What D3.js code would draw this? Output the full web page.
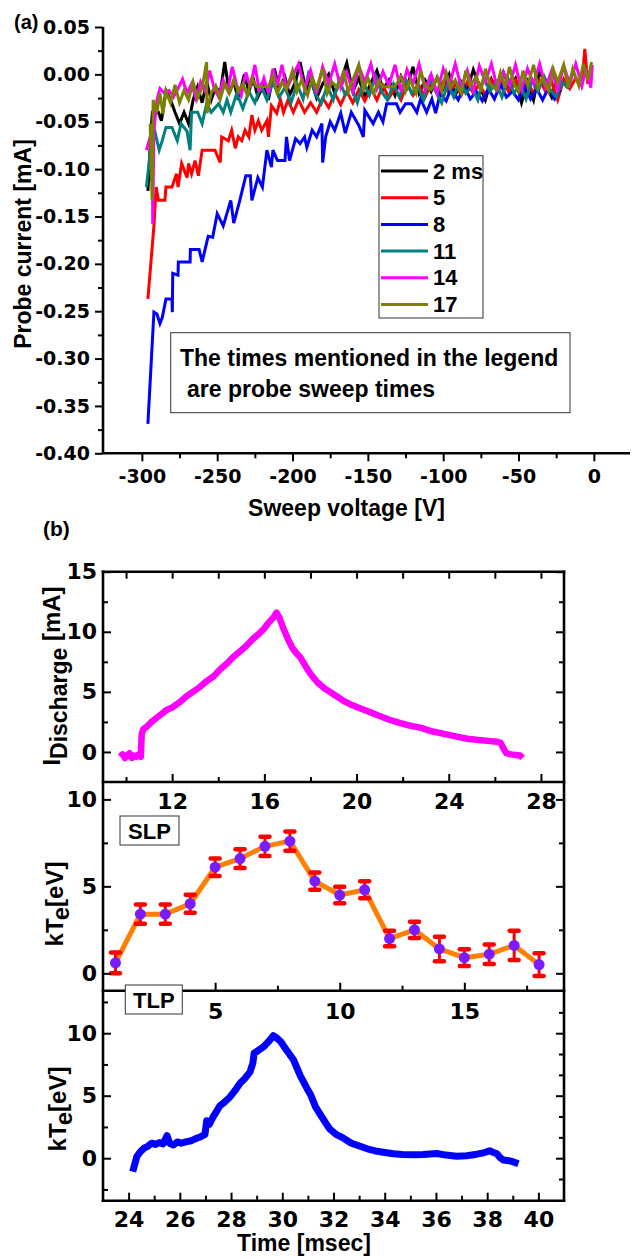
<!DOCTYPE html>
<html>
<head>
<meta charset="utf-8">
<script src="https://cdn.jsdelivr.net/npm/d3@7"></script>
<style>
  body { margin: 0; background: #fff; }
  svg { display: block; }
  text { font-family: "Liberation Sans", Arial, sans-serif; font-weight: bold; fill: #000; }
  .tick text { font-family: "DejaVu Sans", sans-serif; font-weight: bold; }
  .tick line { stroke: #000; stroke-width: 2; }
</style>
</head>
<body>
<svg id="chart" width="638" height="1258"></svg>
<script>
// ---------------- Panel (a): probe I-V sweeps ([voltage V, current mA]) ----------------
const sweep2 = [[-296,-0.123],[-294,-0.060],[-293,-0.040],[-289,-0.040],[-287,-0.049],[-284,-0.017],[-281,-0.027],[-278,-0.040],[-275,-0.052],[-272,-0.040],[-269,-0.052],[-266,-0.027],[-263,-0.013],[-260,-0.030],[-257,-0.008],[-254,-0.027],[-251,-0.013],[-248,-0.020],[-245,0.013],[-242,-0.020],[-239,-0.007],[-236,-0.027],[-232,0.000],[-229,-0.018],[-226,-0.005],[-223,-0.024],[-219,-0.010],[-216,-0.027],[-212,0.006],[-209,-0.015],[-205,-0.003],[-202,-0.022],[-198,-0.008],[-195,0.013],[-191,-0.017],[-188,-0.005],[-184,-0.025],[-180,-0.010],[-176,0.000],[-172,-0.020],[-168,-0.007],[-164,0.012],[-160,-0.018],[-156,-0.004],[-152,-0.024],[-148,-0.009],[-144,0.004],[-140,-0.016],[-136,-0.006],[-132,-0.022],[-128,-0.002],[-124,-0.014],[-120,0.008],[-116,-0.020],[-112,-0.006],[-108,-0.018],[-104,-0.003],[-100,-0.015],[-96,0.000],[-92,-0.022],[-88,-0.008],[-84,-0.016],[-80,0.005],[-76,-0.012],[-72,-0.027],[-68,-0.005],[-64,-0.018],[-60,0.002],[-56,-0.014],[-52,-0.004],[-48,-0.030],[-44,-0.008],[-40,-0.027],[-36,0.004],[-32,-0.012],[-28,-0.024],[-25,-0.006]];

const sweep5 = [[-296,-0.237],[-292,-0.160],[-290.5,-0.119],[-289,-0.133],[-284.7,-0.133],[-284,-0.119],[-280,-0.119],[-277,-0.105],[-276,-0.119],[-273.6,-0.094],[-270,-0.109],[-269,-0.094],[-267,-0.105],[-264.7,-0.091],[-262.5,-0.107],[-260,-0.080],[-251.5,-0.080],[-248,-0.093],[-247,-0.066],[-242.6,-0.070],[-240.4,-0.059],[-238,-0.078],[-236,-0.066],[-233.7,-0.070],[-231.5,-0.059],[-229,-0.066],[-227,-0.043],[-225,-0.059],[-222.7,-0.049],[-220.5,-0.059],[-217,-0.049],[-216,-0.066],[-214,-0.033],[-210.5,-0.041],[-208,-0.027],[-206,-0.040],[-203,-0.027],[-199.5,-0.040],[-196,-0.027],[-192,-0.040],[-188,-0.030],[-184,-0.040],[-180,-0.025],[-176,-0.035],[-172,-0.020],[-168,-0.032],[-164,-0.018],[-160,-0.030],[-156,-0.016],[-152,-0.028],[-148,-0.015],[-144,-0.027],[-140,-0.012],[-136,-0.025],[-132,-0.015],[-128,-0.027],[-124,-0.010],[-120,-0.022],[-116,-0.012],[-112,-0.024],[-108,-0.010],[-104,-0.020],[-100,-0.008],[-96,-0.020],[-92,-0.010],[-88,-0.022],[-84,-0.008],[-80,-0.020],[-76,-0.010],[-72,-0.022],[-68,-0.006],[-64,-0.018],[-60,-0.008],[-56,-0.020],[-52,-0.006],[-48,-0.018],[-44,-0.008],[-40,-0.020],[-36,-0.006],[-32,-0.018],[-28,-0.008],[-24,-0.027],[-20,-0.005],[-16,-0.015],[-12,-0.004],[-8,-0.012],[-6,0.027],[-4,-0.010]];

const sweep8 = [[-296,-0.369],[-292,-0.251],[-290,-0.253],[-288,-0.263],[-286.5,-0.257],[-284,-0.237],[-280,-0.237],[-279.8,-0.251],[-279.5,-0.210],[-276,-0.212],[-275.8,-0.198],[-268,-0.198],[-267.8,-0.185],[-262,-0.185],[-260,-0.198],[-256,-0.171],[-253,-0.172],[-250,-0.147],[-246,-0.160],[-241,-0.133],[-239,-0.157],[-235,-0.133],[-231,-0.107],[-228,-0.107],[-227,-0.133],[-223,-0.109],[-220,-0.119],[-217,-0.080],[-214,-0.098],[-213,-0.080],[-210,-0.091],[-205,-0.091],[-204,-0.066],[-202,-0.091],[-198,-0.068],[-195,-0.073],[-192,-0.066],[-190.5,-0.077],[-187,-0.059],[-184,-0.066],[-180.5,-0.052],[-180,-0.093],[-178,-0.066],[-175,-0.050],[-172,-0.059],[-168,-0.041],[-165,-0.062],[-161,-0.040],[-156,-0.054],[-153,-0.066],[-152,-0.038],[-146.5,-0.052],[-143,-0.040],[-140,-0.050],[-137.5,-0.031],[-131,-0.031],[-128.6,-0.040],[-125,-0.031],[-121,-0.031],[-117.5,-0.040],[-115,-0.026],[-111,-0.040],[-107.5,-0.026],[-105,-0.041],[-102,-0.020],[-98,-0.028],[-95,-0.015],[-90,-0.027],[-86,-0.012],[-82,-0.026],[-78,-0.018],[-74,-0.028],[-70,-0.015],[-66,-0.026],[-62,-0.010],[-58,-0.024],[-54,-0.018],[-50,-0.027],[-46,-0.012],[-42,-0.026],[-38,-0.015],[-34,-0.027],[-30,-0.014],[-26,-0.026],[-22,-0.016]];

const sweep11 = [[-297,-0.119],[-294,-0.077],[-292,-0.056],[-288.5,-0.080],[-286.5,-0.070],[-284,-0.056],[-280,-0.056],[-276.5,-0.070],[-274,-0.052],[-270,-0.060],[-268,-0.080],[-267,-0.040],[-263,-0.040],[-260,-0.052],[-257,-0.031],[-254,-0.040],[-249,-0.031],[-246,-0.040],[-243.5,-0.027],[-241,-0.040],[-237,-0.020],[-233,-0.036],[-229,-0.018],[-225,-0.030],[-221,-0.012],[-217,-0.027],[-213,-0.008],[-209,-0.024],[-205,-0.014],[-201,-0.030],[-197,-0.010],[-193,-0.026],[-189,0.004],[-185,-0.020],[-181,-0.031],[-177,-0.012],[-173,-0.027],[-169,-0.006],[-165,-0.022],[-161,-0.013],[-157,-0.030],[-153,-0.008],[-149,-0.022],[-145,-0.002],[-141,-0.018],[-137,-0.027],[-133,-0.010],[-129,-0.024],[-125,-0.005],[-121,-0.020],[-117,-0.012],[-113,-0.027],[-109,-0.004],[-105,-0.018],[-101,-0.030],[-97,-0.010],[-93,-0.024],[-89,-0.006],[-85,-0.020],[-81,-0.013],[-77,-0.027],[-73,-0.003],[-69,-0.018],[-65,-0.008],[-61,-0.024],[-57,-0.004],[-53,-0.020],[-49,-0.010],[-45,-0.026],[-41,-0.006],[-37,-0.018],[-33,-0.002],[-29,-0.016],[-25,-0.024],[-21,-0.008],[-17,-0.015]];

const sweep14 = [[-297,-0.080],[-294.5,-0.066],[-293,-0.066],[-292.8,-0.158],[-292,-0.060],[-290,-0.027],[-288,-0.015],[-285,-0.020],[-282,-0.017],[-279,-0.024],[-276,-0.015],[-273,-0.005],[-270,-0.020],[-267,-0.010],[-264,-0.026],[-261,-0.008],[-258,-0.018],[-255,0.004],[-252,-0.015],[-249,-0.024],[-246,-0.006],[-243,-0.017],[-240,0.008],[-237,-0.012],[-234,-0.022],[-231,0.002],[-228,-0.014],[-225,0.010],[-222,-0.018],[-219,-0.004],[-216,-0.020],[-213,0.006],[-210,-0.012],[-207,0.010],[-204,-0.016],[-200,-0.002],[-196,0.011],[-192,-0.015],[-188,0.004],[-184,-0.020],[-180,0.008],[-176,-0.010],[-172,0.011],[-168,-0.014],[-164,0.002],[-160,-0.018],[-156,0.009],[-152,-0.008],[-148,0.011],[-144,-0.015],[-140,0.003],[-136,-0.012],[-132,0.010],[-128,-0.018],[-124,0.005],[-120,-0.010],[-116,0.011],[-112,-0.016],[-108,0.000],[-104,-0.020],[-100,0.006],[-96,-0.012],[-92,0.011],[-88,-0.014],[-84,0.004],[-80,-0.018],[-76,0.009],[-72,-0.008],[-68,0.011],[-64,-0.015],[-60,0.002],[-56,-0.012],[-52,0.010],[-48,-0.016],[-44,0.006],[-40,-0.010],[-36,0.011],[-32,-0.014],[-28,0.004],[-24,-0.016],[-20,0.009],[-16,-0.010],[-12,0.011],[-8,-0.012],[-5,0.006],[-2,-0.014],[-1,0.010]];

const sweep17 = [[-294.5,-0.052],[-293.2,-0.133],[-292.5,-0.027],[-290,-0.040],[-288,-0.020],[-286,-0.042],[-284,-0.018],[-281,-0.030],[-278,-0.011],[-275,-0.030],[-272,-0.017],[-269,-0.027],[-266,-0.008],[-263,-0.025],[-260,-0.014],[-257,0.013],[-256.8,-0.041],[-254,-0.020],[-251,-0.012],[-248,-0.026],[-245,-0.010],[-242,-0.020],[-239,-0.006],[-236,-0.018],[-233,-0.010],[-230,-0.022],[-227,-0.004],[-224,-0.013],[-220,-0.013],[-216,-0.013],[-213,-0.002],[-210,-0.020],[-207,-0.008],[-204,-0.016],[-200,0.004],[-197,-0.018],[-194,-0.006],[-190,-0.022],[-187,-0.004],[-184,-0.015],[-180,0.006],[-177,-0.020],[-174,-0.008],[-170,-0.014],[-166,0.002],[-163,-0.018],[-160,-0.006],[-156,0.010],[-153,-0.016],[-150,-0.004],[-146,-0.020],[-143,-0.007],[-140,-0.013],[-136,-0.013],[-132,-0.013],[-128,-0.002],[-125,-0.018],[-122,-0.006],[-118,-0.020],[-115,0.004],[-112,-0.012],[-108,-0.016],[-104,-0.003],[-101,-0.018],[-98,0.002],[-95,-0.014],[-92,-0.006],[-88,-0.020],[-85,0.004],[-82,-0.012],[-78,-0.002],[-75,-0.018],[-72,0.006],[-69,-0.010],[-65,-0.016],[-62,0.002],[-59,-0.014],[-56,0.008],[-53,-0.010],[-50,-0.018],[-47,0.004],[-44,-0.012],[-40,0.010],[-37,-0.014],[-34,-0.004],[-30,-0.018],[-27,0.006],[-24,-0.008],[-20,0.010],[-17,-0.014],[-14,0.006],[-10,-0.012],[-7,0.011],[-4,-0.006],[-1.5,0.013]];

const sweepLabels = ["2 ms", "5", "8", "11", "14", "17"];
const sweepColors = ["#000000", "#ff0000", "#0000ff", "#008080", "#ff00ff", "#808000"];
const sweepData = [sweep2, sweep5, sweep8, sweep11, sweep14, sweep17];

const aXTicks = [-300, -250, -200, -150, -100, -50, 0];
const aXMinor = [-275, -225, -175, -125, -75, -25];
const aYTicks = [-0.40, -0.35, -0.30, -0.25, -0.20, -0.15, -0.10, -0.05, 0.00, 0.05];
const aYMinor = [-0.375, -0.325, -0.275, -0.225, -0.175, -0.125, -0.075, -0.025, 0.025];

// ---------------- Panel (b) top: discharge current ----------------
const dischargeTime = [9.75,9.85,9.95,10.05,10.15,10.25,10.35,10.45,10.55,10.64,10.68,10.75,10.9,11.1,11.3,11.5,11.76,12.0,12.3,12.6,12.9,13.2,13.5,13.8,14.1,14.4,14.65,14.9,15.2,15.5,15.8,16.0,16.2,16.4,16.53,16.65,16.8,17.0,17.2,17.4,17.55,17.8,18.0,18.3,18.6,19.0,19.4,19.8,20.2,20.6,21.0,21.4,21.9,22.3,22.8,23.3,23.8,24.3,24.8,25.3,25.8,26.1,26.25,26.4,26.5,26.7,26.9,27.1,27.2];
const dischargeCurrent = [-0.4,-0.2,-0.5,-0.3,-0.1,-0.5,-0.3,-0.4,-0.2,-0.4,1.5,1.9,2.1,2.5,2.8,3.1,3.5,3.7,4.1,4.6,5.0,5.4,5.9,6.3,6.9,7.4,7.9,8.3,8.8,9.4,9.9,10.3,10.8,11.2,11.6,11.2,10.4,9.5,8.7,8.2,7.9,7.1,6.5,5.8,5.3,4.8,4.3,3.9,3.6,3.3,3.0,2.7,2.4,2.2,2.0,1.7,1.5,1.3,1.1,1.0,0.9,0.85,0.75,0.2,-0.1,-0.2,-0.25,-0.3,-0.5];

// ---------------- Panel (b) middle: single Langmuir probe kTe per sweep ----------------
const slpSweep = [1,2,3,4,5,6,7,8,9,10,11,12,13,14,15,16,17,18];
const slpTe    = [0.6,3.4,3.4,4.0,6.1,6.6,7.3,7.6,5.3,4.5,4.8,2.0,2.5,1.4,0.9,1.1,1.6,0.5];
const slpErr   = [0.6,0.55,0.55,0.52,0.5,0.54,0.55,0.56,0.5,0.47,0.49,0.45,0.47,0.7,0.48,0.56,0.84,0.65];

// ---------------- Panel (b) bottom: triple Langmuir probe kTe ----------------
const tlpTime = [24.16,24.25,24.32,24.45,24.6,24.75,24.9,25.05,25.2,25.35,25.5,25.6,25.75,25.9,26.05,26.27,26.45,26.6,26.8,26.98,27.05,27.15,27.3,27.45,27.57,27.75,27.96,28.15,28.35,28.55,28.74,28.85,28.9,29.05,29.26,29.45,29.65,29.8,29.95,30.15,30.43,30.7,30.96,31.1,31.3,31.48,31.7,31.87,32.1,32.39,32.7,33.04,33.4,33.7,34.0,34.34,34.7,35.12,35.5,36.03,36.4,36.8,37.2,37.6,37.9,38.1,38.25,38.38,38.5,38.64,38.85,39.03,39.22];
const tlpTe = [-1.07,-0.4,0.13,0.5,0.8,0.95,1.2,1.1,1.25,1.15,1.8,1.2,1.06,1.3,1.2,1.33,1.4,1.55,1.7,1.9,3.0,2.7,3.3,3.8,4.2,4.5,4.9,5.4,6.0,6.4,6.9,7.6,8.4,8.6,8.9,9.3,9.8,9.6,9.3,8.7,7.9,6.6,5.6,5.1,4.1,3.5,2.8,2.3,1.9,1.6,1.2,0.95,0.7,0.55,0.45,0.35,0.3,0.28,0.3,0.38,0.25,0.15,0.2,0.32,0.45,0.6,0.45,0.35,0.05,-0.15,-0.2,-0.3,-0.45];

const topXMajor = [12, 16, 20, 24, 28], topXMinor = [10, 14, 18, 22, 26];
const topYMajor = [0, 5, 10, 15], topYMinor = [2.5, 7.5, 12.5];
const midXMajor = [5, 10, 15], midXMinor = [2.5, 7.5, 12.5, 17.5];
const midYMajor = [0, 5, 10], midYMinor = [2.5, 7.5];
const botXMajor = [24, 26, 28, 30, 32, 34, 36, 38, 40], botXMinor = [25, 27, 29, 31, 33, 35, 37, 39];
const botYMajor = [0, 5, 10], botYMinor = [-2.5, 2.5, 7.5, 12.5];
const botYRight = [-5/3, 5/3, 10/3, 20/3, 25/3, 35/3];

// ---------------------------------------------------------------------------------
const svg = d3.select("#chart");
const loc = d3.formatLocale({decimal: ".", thousands: ",", grouping: [3], currency: ["", ""], minus: "-"});
const fmt2 = loc.format(".2f");
const fmt0 = loc.format("d");

// Draws one axis (major + optional minor set) with the given generator.
function axis(g, make, scale, major, minor, opts) {
  const o = Object.assign({size: 8, minorSize: 5, pad: 6, font: 22, labels: true, fmt: fmt0}, opts);
  const a = g.append("g").attr("transform", o.tr)
    .call(make(scale).tickValues(major).tickSize(o.size).tickSizeOuter(0).tickPadding(o.pad)
      .tickFormat(o.labels ? o.fmt : () => ""));
  a.select(".domain").remove();
  a.selectAll(".tick text").style("font-size", o.font + "px");
  if (minor && minor.length) {
    const m = g.append("g").attr("transform", o.tr)
      .call(make(scale).tickValues(minor).tickSize(o.minorSize).tickSizeOuter(0).tickFormat(() => ""));
    m.select(".domain").remove();
  }
}

// ---------------- Panel (a) ----------------
const ax = d3.scaleLinear().domain([-325.8, 24]).range([103, 630]);
const ay = d3.scaleLinear().domain([-0.40, 0.05]).range([453.3, 27]);
const gA = svg.append("g");

const lineA = d3.line().x(d => ax(d[0])).y(d => ay(d[1]));
sweepData.forEach((s, i) => {
  gA.append("path").datum(s).attr("d", lineA)
    .attr("fill", "none").attr("stroke", sweepColors[i])
    .attr("stroke-width", 3).attr("stroke-linejoin", "miter");
});

axis(gA, d3.axisLeft, ay, aYTicks, aYMinor, {tr: `translate(${ax.range()[0]},0)`, size: 8, pad: 5, font: 19, fmt: fmt2});
axis(gA, d3.axisBottom, ax, aXTicks, aXMinor, {tr: `translate(0,${ay.range()[0]})`, size: 8, pad: 8, font: 19});
gA.append("line").attr("x1", ax.range()[0]).attr("x2", ax.range()[0])
  .attr("y1", ay.range()[0]).attr("y2", ay.range()[1]).attr("stroke", "#000").attr("stroke-width", 2.6);
gA.append("line").attr("x1", ax.range()[0]).attr("x2", ax.range()[1])
  .attr("y1", ay.range()[0]).attr("y2", ay.range()[0]).attr("stroke", "#000").attr("stroke-width", 2.6);

// legend
const leg = gA.append("g");
leg.append("rect").attr("x", 379).attr("y", 155.7).attr("width", 104).attr("height", 162.3)
  .attr("fill", "#fff").attr("stroke", "#333").attr("stroke-width", 1);
sweepLabels.forEach((lab, i) => {
  const yy = 171 + i * 26.7;
  leg.append("line").attr("x1", 381).attr("x2", 428).attr("y1", yy).attr("y2", yy)
    .attr("stroke", sweepColors[i]).attr("stroke-width", 3);
  leg.append("text").attr("x", 433).attr("y", yy + 7.5).style("font-size", "22px").text(lab);
});

// note box
const note = gA.append("g");
note.append("rect").attr("x", 170.7).attr("y", 332.7).attr("width", 399.3).attr("height", 80)
  .attr("fill", "#fff").attr("stroke", "#333").attr("stroke-width", 1);
note.append("text").attr("x", 180).attr("y", 366).style("font-size", "23px").text("The times mentioned in the legend");
note.append("text").attr("x", 187).attr("y", 396.5).style("font-size", "23px").text("are probe sweep times");

svg.append("text").attr("x", 14).attr("y", 29).style("font-size", "20px").text("(a)");
svg.append("text").attr("transform", "translate(31,244) rotate(-90)").attr("text-anchor", "middle")
  .style("font-size", "23px").text("Probe current [mA]");
svg.append("text").attr("x", 346.5).attr("y", 516).attr("text-anchor", "middle")
  .style("font-size", "23px").text("Sweep voltage [V]");

// ---------------- Panel (b) ----------------
const bx1 = d3.scaleLinear().domain([9, 29]).range([103, 564]);
const by1 = d3.scaleLinear().domain([-2.5, 15]).range([782, 571.7]);
const bx2 = d3.scaleLinear().domain([0.5, 19]).range([103, 564]);
const by2 = d3.scaleLinear().domain([-1, 11]).range([990.7, 782]);
const bx3 = d3.scaleLinear().domain([23, 41]).range([103, 564]);
const by3 = d3.scaleLinear().domain([-3.4, 13.4]).range([1200.7, 990.7]);
const gB = svg.append("g");
const L = bx1.range()[0], R = bx1.range()[1];

// top: discharge current
const dis = dischargeTime.map((t, i) => [t, dischargeCurrent[i]]);
gB.append("path").datum(dis)
  .attr("d", d3.line().x(d => bx1(d[0])).y(d => by1(d[1])))
  .attr("fill", "none").attr("stroke", "#ff00ff").attr("stroke-width", 6.5).attr("stroke-linejoin", "round");

// bottom: TLP temperature
const tlp = tlpTime.map((t, i) => [t, tlpTe[i]]);
gB.append("path").datum(tlp)
  .attr("d", d3.line().x(d => bx3(d[0])).y(d => by3(d[1])))
  .attr("fill", "none").attr("stroke", "#0000ff").attr("stroke-width", 7).attr("stroke-linejoin", "round");

// middle: SLP temperature with error bars
const slp = slpSweep.map((s, i) => ({s, v: slpTe[i], e: slpErr[i]}));
gB.append("path").datum(slp)
  .attr("d", d3.line().x(d => bx2(d.s)).y(d => by2(d.v)))
  .attr("fill", "none").attr("stroke", "#ff8000").attr("stroke-width", 5).attr("stroke-linejoin", "round");
const eb = gB.append("g").selectAll("g").data(slp).join("g");
eb.append("line").attr("x1", d => bx2(d.s)).attr("x2", d => bx2(d.s))
  .attr("y1", d => by2(d.v - d.e)).attr("y2", d => by2(d.v + d.e))
  .attr("stroke", "#ff0000").attr("stroke-width", 3);
[-1, 1].forEach(sg => {
  eb.append("line").attr("x1", d => bx2(d.s) - 4.5).attr("x2", d => bx2(d.s) + 4.5)
    .attr("y1", d => by2(d.v + sg * d.e)).attr("y2", d => by2(d.v + sg * d.e))
    .attr("stroke", "#ff0000").attr("stroke-width", 4.5).attr("stroke-linecap", "round");
});
eb.append("circle").attr("cx", d => bx2(d.s)).attr("cy", d => by2(d.v)).attr("r", 5.5).attr("fill", "#7a1cff");

// axes: inward ticks
const T1 = by1.range()[1], B1 = by1.range()[0], B2 = by2.range()[0], B3 = by3.range()[0];
axis(gB, d3.axisLeft, by1, topYMajor, topYMinor, {tr: `translate(${L},0)`, size: -8, minorSize: -5, pad: 6});
axis(gB, d3.axisRight, by1, topYMajor, topYMinor, {tr: `translate(${R},0)`, size: -8, minorSize: -5, labels: false});
axis(gB, d3.axisTop, bx1, topXMajor.concat(topXMinor), null, {tr: `translate(0,${T1})`, size: -7, labels: false});
axis(gB, d3.axisBottom, bx1, topXMajor, topXMinor, {tr: `translate(0,${B1})`, size: -8, minorSize: -5, pad: 11});

axis(gB, d3.axisLeft, by2, midYMajor, midYMinor, {tr: `translate(${L},0)`, size: -8, minorSize: -5, pad: 6});
axis(gB, d3.axisRight, by2, midYMajor, midYMinor, {tr: `translate(${R},0)`, size: -8, minorSize: -5, labels: false});
axis(gB, d3.axisBottom, bx2, midXMajor, midXMinor, {tr: `translate(0,${B2})`, size: -8, minorSize: -5, pad: 13});

axis(gB, d3.axisLeft, by3, botYMajor, botYMinor, {tr: `translate(${L},0)`, size: -8, minorSize: -5, pad: 6});
axis(gB, d3.axisRight, by3, botYMajor, botYRight, {tr: `translate(${R},0)`, size: -8, minorSize: -5, labels: false});
axis(gB, d3.axisBottom, bx3, botXMajor, botXMinor, {tr: `translate(0,${B3})`, size: -8, minorSize: -5, pad: 11});

// frame and panel separators
[[L, T1, L, B3], [R, T1, R, B3], [L, T1, R, T1], [L, B1, R, B1], [L, B2, R, B2], [L, B3, R, B3]]
  .forEach(c => gB.append("line").attr("x1", c[0]).attr("y1", c[1]).attr("x2", c[2]).attr("y2", c[3])
    .attr("stroke", "#000").attr("stroke-width", 2.6).attr("stroke-linecap", "square"));

// probe tags
function tag(x, y, w, h, label) {
  gB.append("rect").attr("x", x).attr("y", y).attr("width", w).attr("height", h)
    .attr("fill", "#fff").attr("stroke", "#333").attr("stroke-width", 1);
  gB.append("text").attr("x", x + w / 2).attr("y", y + h - 6).attr("text-anchor", "middle")
    .style("font-size", "22px").text(label);
}
tag(120, 816, 59, 29, "SLP");
tag(125.3, 985, 57, 29, "TLP");

// titles
svg.append("text").attr("x", 43).attr("y", 536).style("font-size", "21px").text("(b)");
const t1 = svg.append("text").attr("transform", "translate(60,676) rotate(-90)").attr("text-anchor", "middle")
  .style("font-size", "24px");
t1.append("tspan").text("I");
t1.append("tspan").attr("dy", 7).style("font-size", "23px").text("Discharge");
t1.append("tspan").attr("dy", -7).text(" [mA]");

function kte(x, y) {
  const t = svg.append("text").attr("transform", `translate(${x},${y}) rotate(-90)`).attr("text-anchor", "middle")
    .style("font-size", "24px");
  t.append("tspan").text("kT");
  t.append("tspan").attr("dy", 6).text("e");
  t.append("tspan").attr("dy", -6).text("[eV]");
}
kte(63, 904);
kte(66, 1109);

svg.append("text").attr("x", 304).attr("y", 1251).attr("text-anchor", "middle")
  .style("font-size", "23px").text("Time [msec]");
</script>
</body>
</html>
